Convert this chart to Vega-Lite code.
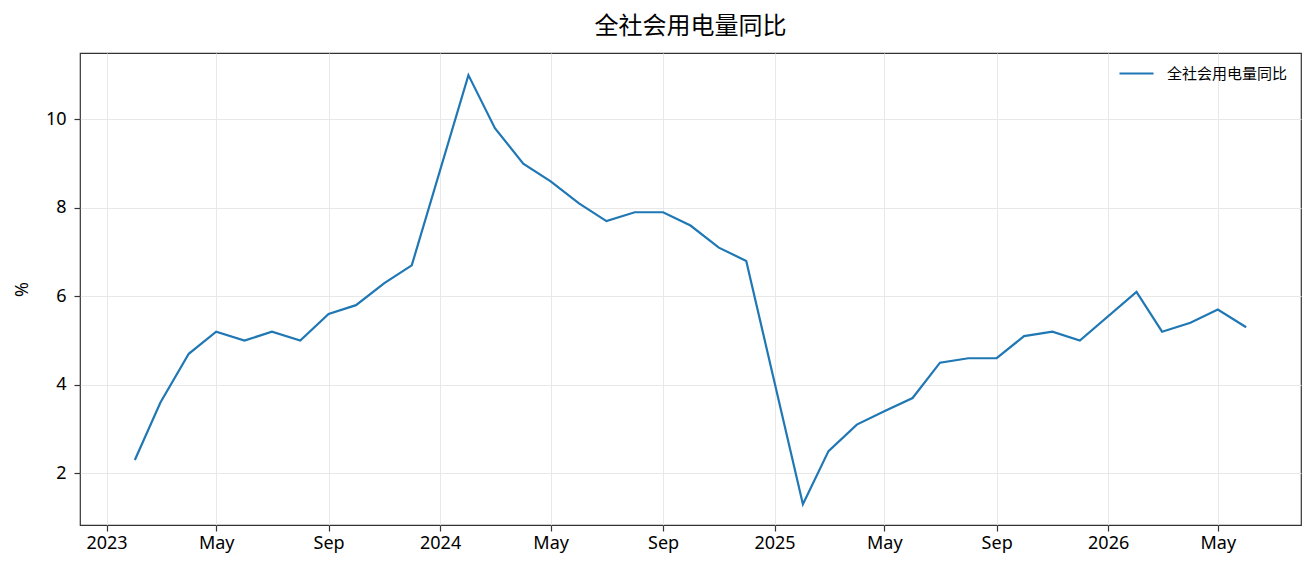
{
  "$schema": "https://vega.github.io/schema/vega-lite/v6.json",
  "width": 1221,
  "height": 472,
  "autosize": {"type": "none"},
  "padding": {"left": 80, "top": 53, "right": 15, "bottom": 49},
  "background": "white",
  "title": {
    "text": "全社会用电量同比",
    "font": "Noto Sans CJK SC",
    "fontSize": 24,
    "fontWeight": "normal",
    "color": "#000000",
    "anchor": "middle",
    "frame": "group",
    "baseline": "alphabetic",
    "offset": 18,
    "dy": 23
  },
  "config": {
    "view": {"stroke": "#333333", "strokeWidth": 1.2},
    "axis": {
      "labelFont": "Noto Sans",
      "labelFontSize": 18,
      "labelColor": "#000000",
      "titleFont": "Noto Sans",
      "titleFontSize": 18,
      "titleFontWeight": "normal",
      "titleColor": "#000000",
      "domain": false,
      "tickColor": "#333333",
      "tickWidth": 1.2,
      "tickSize": 6,
      "gridColor": "#e8e8e8",
      "gridWidth": 1
    }
  },
  "data": {
    "values": [
      {"date": "2023-02-01", "value": 2.3},
      {"date": "2023-03-01", "value": 3.6},
      {"date": "2023-04-01", "value": 4.7},
      {"date": "2023-05-01", "value": 5.2},
      {"date": "2023-06-01", "value": 5.0},
      {"date": "2023-07-01", "value": 5.2},
      {"date": "2023-08-01", "value": 5.0},
      {"date": "2023-09-01", "value": 5.6},
      {"date": "2023-10-01", "value": 5.8},
      {"date": "2023-11-01", "value": 6.3},
      {"date": "2023-12-01", "value": 6.7},
      {"date": "2024-02-01", "value": 11.0},
      {"date": "2024-03-01", "value": 9.8},
      {"date": "2024-04-01", "value": 9.0},
      {"date": "2024-05-01", "value": 8.6},
      {"date": "2024-06-01", "value": 8.1},
      {"date": "2024-07-01", "value": 7.7},
      {"date": "2024-08-01", "value": 7.9},
      {"date": "2024-09-01", "value": 7.9},
      {"date": "2024-10-01", "value": 7.6},
      {"date": "2024-11-01", "value": 7.1},
      {"date": "2024-12-01", "value": 6.8},
      {"date": "2025-02-01", "value": 1.3},
      {"date": "2025-03-01", "value": 2.5},
      {"date": "2025-04-01", "value": 3.1},
      {"date": "2025-05-01", "value": 3.4},
      {"date": "2025-06-01", "value": 3.7},
      {"date": "2025-07-01", "value": 4.5},
      {"date": "2025-08-01", "value": 4.6},
      {"date": "2025-09-01", "value": 4.6},
      {"date": "2025-10-01", "value": 5.1},
      {"date": "2025-11-01", "value": 5.2},
      {"date": "2025-12-01", "value": 5.0},
      {"date": "2026-02-01", "value": 6.1},
      {"date": "2026-03-01", "value": 5.2},
      {"date": "2026-04-01", "value": 5.4},
      {"date": "2026-05-01", "value": 5.7},
      {"date": "2026-06-01", "value": 5.3}
    ]
  },
  "transform": [{"calculate": "'全社会用电量同比'", "as": "series"}],
  "mark": {"type": "line", "strokeWidth": 2.2, "clip": true},
  "encoding": {
    "x": {
      "field": "date",
      "type": "temporal",
      "scale": {
        "type": "utc",
        "domain": [
          {"year": 2022, "month": 12, "date": 3, "utc": true},
          {"year": 2026, "month": 7, "date": 31, "utc": true}
        ]
      },
      "axis": {
        "title": null,
        "values": [
          {"year": 2023, "month": 1, "date": 1, "utc": true},
          {"year": 2023, "month": 5, "date": 1, "utc": true},
          {"year": 2023, "month": 9, "date": 1, "utc": true},
          {"year": 2024, "month": 1, "date": 1, "utc": true},
          {"year": 2024, "month": 5, "date": 1, "utc": true},
          {"year": 2024, "month": 9, "date": 1, "utc": true},
          {"year": 2025, "month": 1, "date": 1, "utc": true},
          {"year": 2025, "month": 5, "date": 1, "utc": true},
          {"year": 2025, "month": 9, "date": 1, "utc": true},
          {"year": 2026, "month": 1, "date": 1, "utc": true},
          {"year": 2026, "month": 5, "date": 1, "utc": true}
        ],
        "labelExpr": "utcmonth(datum.value) == 0 ? utcFormat(datum.value, '%Y') : utcFormat(datum.value, '%b')",
        "labelPadding": 3,
        "labelFlush": false,
        "grid": true
      }
    },
    "y": {
      "field": "value",
      "type": "quantitative",
      "scale": {"domain": [0.83, 11.5], "nice": false, "zero": false},
      "axis": {
        "title": "%",
        "values": [2, 4, 6, 8, 10],
        "labelPadding": 8,
        "grid": true,
        "titleAngle": -90,
        "titleX": -58,
        "titleY": 236,
        "titleAlign": "center",
        "titleBaseline": "middle"
      }
    },
    "color": {
      "field": "series",
      "type": "nominal",
      "scale": {"range": ["#1f77b4"]},
      "legend": {
        "title": null,
        "orient": "none",
        "legendX": 1038,
        "legendY": 2,
        "symbolType": "stroke",
        "symbolSize": 1156,
        "symbolStrokeWidth": 2.2,
        "labelFont": "Noto Sans CJK SC",
        "labelFontSize": 15,
        "labelColor": "#000000",
        "labelOffset": 12
      }
    }
  }
}
